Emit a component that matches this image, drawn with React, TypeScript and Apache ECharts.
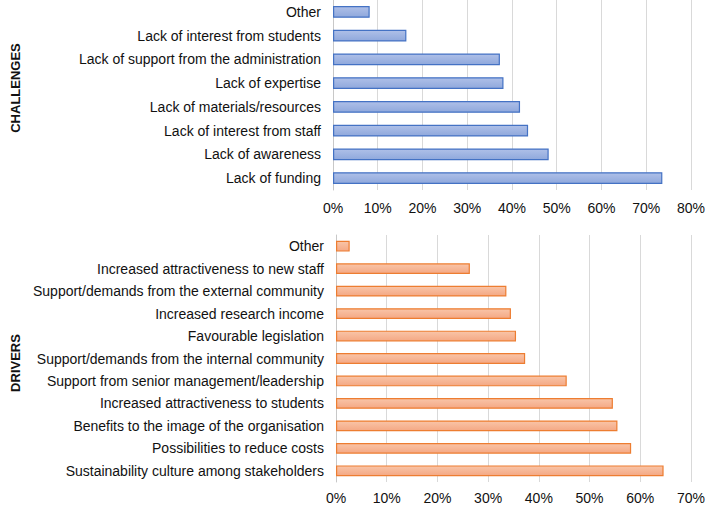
import React, { useEffect, useRef } from "react";
import * as echarts from "echarts";

const challengeCategories = [
  "Other",
  "Lack of interest from students",
  "Lack of support from the administration",
  "Lack of expertise",
  "Lack of materials/resources",
  "Lack of interest from staff",
  "Lack of awareness",
  "Lack of funding",
];
const challengeValues = [8.2, 16.4, 37.3, 38.1, 41.8, 43.6, 48.2, 73.6];

const driverCategories = [
  "Other",
  "Increased attractiveness to new staff",
  "Support/demands from the external community",
  "Increased research income",
  "Favourable legislation",
  "Support/demands from the internal community",
  "Support from senior management/leadership",
  "Increased attractiveness to students",
  "Benefits to the image of the organisation",
  "Possibilities to reduce costs",
  "Sustainability culture among stakeholders",
];
const driverValues = [2.7, 26.4, 33.6, 34.5, 35.5, 37.3, 45.5, 54.6, 55.5, 58.2, 64.6];

const FONT = "Liberation Sans, Arial, sans-serif";

export default function App() {
  const ref = useRef<HTMLDivElement>(null);
  useEffect(() => {
    if (!ref.current) return;
    const chart = echarts.init(ref.current, null, { renderer: "svg" });
    const blueFill = new echarts.graphic.LinearGradient(0, 0, 0, 1, [
      { offset: 0, color: "#afc0e8" },
      { offset: 1, color: "#8fa8dc" },
    ]);
    const orangeFill = new echarts.graphic.LinearGradient(0, 0, 0, 1, [
      { offset: 0, color: "#f9c5a8" },
      { offset: 1, color: "#f4a884" },
    ]);
    const yCommon = {
      type: "category" as const,
      inverse: true,
      axisLine: { show: true, lineStyle: { color: "#c8c8c8", width: 1 } },
      axisTick: { show: false },
      axisLabel: { color: "#111", fontSize: 14, fontFamily: FONT, margin: 12 },
      splitLine: { show: false },
    };
    const xCommon = {
      type: "value" as const,
      min: 0,
      interval: 10,
      axisLine: { show: false },
      axisTick: { show: false },
      splitLine: { show: true, lineStyle: { color: "#d9d9d9", width: 1 } },
    };
    chart.setOption({
      animation: false,
      backgroundColor: "#fff",
      grid: [
        { left: 333, top: 0, right: 16, height: 190, containLabel: false },
        { left: 336, top: 235, right: 14, height: 247, containLabel: false },
      ],
      xAxis: [
        {
          ...xCommon,
          gridIndex: 0,
          max: 80,
          axisLabel: { color: "#111", fontSize: 14, fontFamily: FONT, margin: 11, formatter: "{value}%" },
        },
        {
          ...xCommon,
          gridIndex: 1,
          max: 70,
          axisLabel: { color: "#111", fontSize: 14, fontFamily: FONT, margin: 9, formatter: "{value}%" },
        },
      ],
      yAxis: [
        { ...yCommon, gridIndex: 0, data: challengeCategories },
        { ...yCommon, gridIndex: 1, data: driverCategories },
      ],
      series: [
        {
          type: "bar",
          xAxisIndex: 0,
          yAxisIndex: 0,
          data: challengeValues,
          barWidth: "50%",
          itemStyle: { color: blueFill, borderColor: "#4472c4", borderWidth: 1.2 },
        },
        {
          type: "bar",
          xAxisIndex: 1,
          yAxisIndex: 1,
          data: driverValues,
          barWidth: "48%",
          itemStyle: { color: orangeFill, borderColor: "#ed7d31", borderWidth: 1.2 },
        },
      ],
      graphic: [
        {
          type: "text",
          x: 15,
          y: 88,
          rotation: Math.PI / 2,
          style: {
            text: "CHALLENGES",
            fontSize: 13,
            fontWeight: "bold",
            fontFamily: FONT,
            fill: "#111",
            align: "center",
            verticalAlign: "middle",
          },
        },
        {
          type: "text",
          x: 15,
          y: 363,
          rotation: Math.PI / 2,
          style: {
            text: "DRIVERS",
            fontSize: 13,
            fontWeight: "bold",
            fontFamily: FONT,
            fill: "#111",
            align: "center",
            verticalAlign: "middle",
          },
        },
      ],
    });
    return () => chart.dispose();
  }, []);
  return (
    <div
      ref={ref}
      style={{ position: "fixed", left: 0, top: 0, width: 708, height: 508, background: "#fff" }}
    />
  );
}
